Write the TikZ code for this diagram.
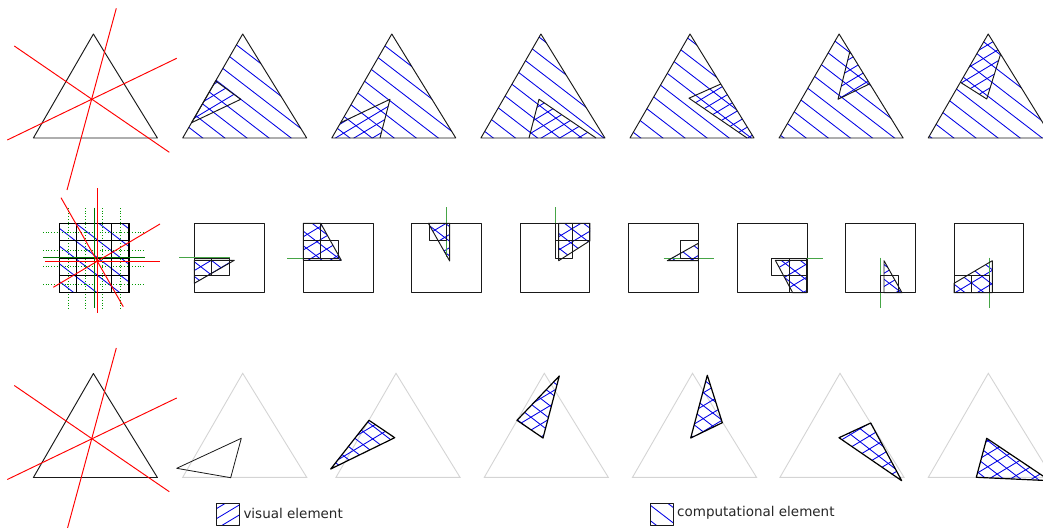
\documentclass[tikz,border=0pt]{standalone}
\usepackage{fontspec}
\setmainfont{DejaVu Sans}
\definecolor{grn}{RGB}{70,165,70}
\tikzset{
 edge/.style={black!90,line width=0.95pt,line join=round},
 heavy/.style={black,line width=1.2pt,line join=round},
 faint/.style={black!17,line width=0.9pt},
 hatchline/.style={blue!90!black,line width=0.85pt},
 redline/.style={red,line width=0.95pt},
 greenline/.style={grn,line width=0.95pt},
 greendot/.style={green!60!black,line width=0.7pt,dotted},
 lab/.style={anchor=west,inner sep=0pt,font=\fontsize{13.5}{16}\selectfont,text=black!85}
}
% #1 polygon path, #2 #3 a point on a line, #4 horizontal spacing
\newcommand\chatch[4]{\begin{scope}\clip #1;
 \foreach \i in {-25,...,25}{\draw[hatchline] ({#2+\i*#4-300},{#3-231}) -- ({#2+\i*#4+300},{#3+231});}
 \end{scope}}
% visual hatch: rises to the right
\newcommand\vhatch[4]{\begin{scope}\clip #1;
 \foreach \i in {-25,...,25}{\draw[hatchline] ({#2+\i*#4-300},{#3+180}) -- ({#2+\i*#4+300},{#3-180});}
 \end{scope}}
% big triangle with left corner x #1, top y #2
\newcommand\bigtri[2]{\draw[edge] (#1,#2+104) -- (#1+60,#2) -- (#1+124,#2+104) -- cycle;}
\newcommand\ftri[1]{\draw[faint] (#1,477.3) -- (#1+60,373.3) -- (#1+124,477.3) -- cycle;}
\newcommand\cellbox[2]{\draw[edge] (#1,#2) rectangle ++(17.45,17.45);}
\newcommand\sqbox[1]{\draw[edge] (#1,223.3) rectangle ++(69.7,69.4);}
\begin{document}
\begin{tikzpicture}[x=1pt,y=-1pt]
\useasboundingbox (0,0) rectangle (1043,527);
\clip (0,0) rectangle (1043,527);
% ---------- row 1
\bigtri{33.4}{34}
\draw[redline] (116.3,8.3) -- (67,190);
\draw[redline] (14.3,46) -- (169.3,152.3);
\draw[redline] (7.3,140) -- (176.7,58.3);
% panel 1
\def\P{(182.7,138)--(242.7,34)--(306.7,138)--cycle}
\chatch{\P}{202.7}{138}{22.1}
\def\Q{(215.7,81)--(240.7,99.3)--(191.6,122.7)--cycle}
\vhatch{\Q}{196.7}{116.7}{18.5}
\bigtri{182.7}{34}
\draw[edge] \Q;
% panel 2
\def\P{(331.8,138)--(391.8,34)--(455.8,138)--cycle}
\chatch{\P}{372}{138}{22.1}
\def\Q{(340.6,122.7)--(390,99.3)--(380,138)--(331.8,138)--cycle}
\vhatch{\Q}{385}{108.3}{18.5}
\bigtri{331.8}{34}
\draw[edge] (340.6,122.7) -- (390,99.3) -- (380,138);
% panel 3
\def\P{(480.9,138)--(540.9,34)--(604.9,138)--cycle}
\chatch{\P}{493.3}{138}{22.1}
\def\Q{(539,99.3)--(529,138)--(596,138)--cycle}
\vhatch{\Q}{533.3}{131.7}{18.5}
\bigtri{480.9}{34}
\draw[edge] (529,138) -- (539,99.3) -- (596,138);
% panel 4
\def\P{(630,138)--(690,34)--(754,138)--cycle}
\chatch{\P}{707}{138}{22.1}
\def\Q{(720.8,84)--(689,98.2)--(747,138)--(754,138)--cycle}
\vhatch{\Q}{700}{100}{18.5}
\bigtri{630}{34}
\draw[edge] (720.8,84) -- (689,98.2) -- (747,138);
% panel 5
\def\P{(779.1,138)--(839.1,34)--(903.1,138)--cycle}
\chatch{\P}{784}{138}{22.1}
\def\Q{(849.8,51.7)--(838,99.3)--(869.3,84)--cycle}
\vhatch{\Q}{843.3}{85}{18.5}
\bigtri{779.1}{34}
\draw[edge] (849.8,51.7) -- (838,99.3) -- (869.3,84);
% panel 6
\def\P{(928.2,138)--(988.2,34)--(1052.2,138)--cycle}
\chatch{\P}{931.7}{138}{22.1}
\def\Q{(960.4,82.3)--(988.2,34)--(1000.6,54)--(986.7,99)--cycle}
\vhatch{\Q}{963.3}{81.7}{18.5}
\bigtri{928.2}{34}
\draw[edge] (1000.6,54) -- (986.7,99) -- (960.4,82.3);
% ---------- row 2 : mesh
\def\Q{(59.3,223.3)--(129,223.3)--(129,292.7)--(59.3,292.7)--cycle}
\chatch{\Q}{59.3}{228.3}{23}
\foreach \x in {68.3,85.3,102.7,120}{\draw[greendot] (\x,208) -- (\x,308);}
\foreach \y in {232.3,250,266,284}{\draw[greendot] (43,\y) -- (144,\y);}
\foreach \x in {59.3,76.7,94.2,111.6,129}{\draw[heavy] (\x,223.3) -- (\x,292.7);}
\foreach \y in {223.3,240.7,258,275.4,292.7}{\draw[heavy] (59.3,\y) -- (129,\y);}
\draw[greenline,green!45!black] (94,207.7) -- (94,308);
\draw[greenline,green!45!black] (43.3,257.7) -- (145,257.7);
\draw[redline] (97.7,188) -- (97.7,313);
\draw[redline] (45.3,261) -- (160,261);
\draw[redline] (61,197.7) -- (123.3,306.7);
\draw[redline] (53.3,287.3) -- (160,224);
% panel 1
\sqbox{194.3}
\def\Q{(194.3,260.3)--(229.7,260.3)--(229.7,263.2)--(194.3,283.3)--cycle}
\chatch{\Q}{200.7}{266.7}{19}
\vhatch{\Q}{200.7}{266.7}{22}
\draw[greenline] (179,257.7) -- (229.7,257.7);
\cellbox{194.3}{258}\cellbox{211.8}{258}
\draw[edge] (194.3,260.3) -- (234.3,260.3) -- (194.3,283.3) -- cycle;
% panel 2
\sqbox{303.3}
\def\Q{(303.3,223.3)--(320.7,223.3)--(341.3,260.3)--(303.3,260.3)--cycle}
\chatch{\Q}{317}{241.7}{19}
\vhatch{\Q}{317}{241.7}{22}
\draw[greenline] (287.3,258) -- (338.3,258);
\cellbox{303.3}{223.3}\cellbox{303.3}{240.7}\cellbox{320.7}{240.7}
\draw[edge] (303.3,223.3) -- (320.7,223.3) -- (341.3,260.3) -- (303.3,260.3) -- cycle;
% panel 3
\sqbox{411.7}
\def\Q{(428.3,223.3)--(449.7,223.3)--(449.7,261)--cycle}
\chatch{\Q}{435}{230}{19}
\vhatch{\Q}{435}{230}{22}
\draw[greenline] (446.7,207.3) -- (446.7,257.3);
\cellbox{429.2}{223.3}
\draw[edge] (428.3,223.3) -- (449.7,223.3) -- (449.7,261) -- cycle;
% panel 4
\sqbox{520}
\def\Q{(558.7,223.3)--(590,223.3)--(590,240.7)--(558.7,260.7)--cycle}
\chatch{\Q}{570.7}{242.7}{19}
\vhatch{\Q}{570.7}{242.7}{22}
\draw[greenline] (555,207.3) -- (555,258);
\cellbox{555}{223.3}\cellbox{572.5}{223.3}\cellbox{555}{240.7}
\draw[edge] (558.7,223.3) -- (590,223.3) -- (590,240.7) -- (558.7,260.7) -- cycle;
% panel 5
\sqbox{628.3}
\def\Q{(667.3,260.7)--(698.3,243.3)--(698.3,260.7)--cycle}
\chatch{\Q}{682.7}{251.7}{19}
\vhatch{\Q}{682.7}{251.7}{22}
\draw[greenline] (663.7,258) -- (714.3,258);
\cellbox{680.8}{240.7}
\draw[edge] (667.3,260.7) -- (698.3,243.3) -- (698.3,260.7) -- cycle;
% panel 6
\sqbox{737.3}
\def\Q{(775.3,260.3)--(806.7,260.3)--(806.7,292.7)--(792.7,292.7)--cycle}
\chatch{\Q}{795}{271}{19}
\vhatch{\Q}{795}{271}{22}
\draw[greenline] (771.7,258) -- (822.7,258);
\cellbox{771.7}{258}\cellbox{789.3}{258}\cellbox{789.3}{275.3}
\draw[edge] (775.3,260.3) -- (806.7,260.3) -- (806.7,292.7) -- (792.7,292.7) -- cycle;
% panel 7
\sqbox{845.3}
\def\Q{(884,260.7)--(902,292.7)--(884,292.7)--cycle}
\chatch{\Q}{889.3}{283.3}{19}
\vhatch{\Q}{889.3}{283.3}{22}
\draw[greenline] (880.7,257.7) -- (880.7,308.3);
\cellbox{880.7}{275.3}
\draw[edge] (884,260.7) -- (902,292.7) -- (884,292.7) -- cycle;
% panel 8
\sqbox{954}
\def\Q{(954,283.3)--(992.3,260.7)--(992.3,292.7)--(954,292.7)--cycle}
\chatch{\Q}{960.7}{289.3}{19}
\vhatch{\Q}{960.7}{289.3}{22}
\draw[greenline] (989.3,257.7) -- (989.3,308.3);
\cellbox{954}{275.3}\cellbox{971.6}{275.3}
\draw[edge] (954,283.3) -- (992.3,260.7) -- (992.3,292.7) -- (954,292.7) -- cycle;
% ---------- row 3
\bigtri{33.4}{373.5}
\draw[redline] (116.3,348) -- (67,530);
\draw[redline] (14.3,385.5) -- (169.3,491.7);
\draw[redline] (7.3,479.5) -- (176.7,398);
\ftri{182.7}
\draw[edge,line width=0.8pt] (241.3,438.3) -- (176.7,468.3) -- (230.7,477.7) -- cycle;
\ftri{336}
\def\Q{(369,420.3)--(394.7,437.7)--(330.7,469)--cycle}
\chatch{\Q}{363.3}{431.7}{17}
\vhatch{\Q}{363.3}{431.7}{21.5}
\draw[heavy] \Q;
\ftri{484.3}
\def\Q{(559.3,376)--(517,420.3)--(543,438)--cycle}
\chatch{\Q}{550}{405.7}{17}
\vhatch{\Q}{550}{405.7}{21.5}
\draw[heavy] \Q;
\ftri{632.5}
\def\Q{(707.3,375.3)--(722.3,422.7)--(690.7,438)--cycle}
\chatch{\Q}{703.3}{405.7}{17}
\vhatch{\Q}{703.3}{405.7}{21.5}
\draw[heavy] \Q;
\ftri{780}
\def\Q{(870.7,423)--(839,437.7)--(901.7,480.7)--cycle}
\chatch{\Q}{860}{441.7}{17}
\vhatch{\Q}{860}{441.7}{21.5}
\draw[heavy] \Q;
\ftri{928.3}
\def\Q{(986.7,438.3)--(976.3,477.3)--(1050,480.7)--cycle}
\chatch{\Q}{1006.7}{468.3}{17}
\vhatch{\Q}{1006.7}{468.3}{21.5}
\draw[heavy] \Q;
% ---------- legend
\def\Q{(216.7,503.3)--(239.3,503.3)--(239.3,525)--(216.7,525)--cycle}
\vhatch{\Q}{216.7}{508.5}{16.7}
\draw[edge] \Q;
\node[lab] (t1) at (243.3,513) {visual element};
\def\Q{(650,503.3)--(673.3,503.3)--(673.3,525)--(650,525)--cycle}
\chatch{\Q}{650}{505}{20}
\draw[edge] \Q;
\node[lab] (t2) at (677,513) {computational element};
\end{tikzpicture}
\end{document}
